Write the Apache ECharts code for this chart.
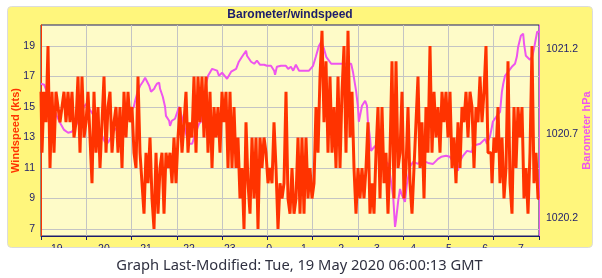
<!DOCTYPE html>
<html>
<head>
<meta charset="utf-8">
<script src="https://cdn.jsdelivr.net/npm/echarts@6/dist/echarts.min.js"></script>
<style>
html,body{margin:0;padding:0;background:#ffffff;}
#chart{width:602px;height:278px;}
</style>
</head>
<body>
<div id="chart"></div>
<script>
// x axis units: hour slots 0..11 (tick positions)
var hourLabels = ['19','20','21','22','23','0','1','2','3','4','5','6','7'];
var hourLabelPos = [0.35,1.39,2.32,3.27,4.17,5.04,5.81,6.63,7.42,8.22,9.01,9.81,10.60];
var windTicks = [7,9,11,13,15,17,19];
var baroTicks = [1020.2,1020.7,1021.2];

// windspeed (kts), evenly sampled over 0..11
var windSpeed = [
16,12,16,14,19,11,16,12,16,15,
14,15,16,14,16,14,16,13,14,17,
12,17,13,14,16,13,10,16,12,15,
11,14,17,12,15,16,12,14,15,12,
15,11,16,13,16,14,15,12,11,17,
12,10,8,12,10,13,9,7,12,8,
11,12,8,12,11,12,10,13,10,13,
15,12,14,16,12,14,13,17,12,17,
14,17,13,17,12,16,11,15,13,15,
12,16,14,16,11,16,11,15,11,13,
9,11,7,14,10,8,13,9,13,7,
13,11,13,12,10,11,10,14,11,7,
10,9,10,16,9,8,11,8,9,13,
8,13,8,13,9,11,9,10,15,12,
17,20,14,18,12,17,12,15,11,17,
11,16,19,12,20,13,16,11,8,11,
9,11,9,11,14,8,10,8,12,15,
9,15,10,12,8,12,18,9,18,11,
12,16,9,11,15,10,8,11,14,17,
11,14,9,15,12,19,12,16,13,15,
12,16,14,16,13,16,11,13,10,14,
11,15,14,16,13,16,15,11,15,14,
17,14,16,19,12,12,10,13,12,15,
10,13,9,11,18,10,8,15,11,15,
13,15,9,11,8,12,19,10,12,9
];
var windSpan = 11;

var baroTime = [0,0.07,0.13,0.24,0.35,0.42,0.51,0.60,0.68,0.77,
0.86,0.95,1.02,1.08,1.17,1.26,1.35,1.41,1.48,1.55,
1.61,1.70,1.79,1.88,1.97,2.05,2.08,2.14,2.19,2.25,
2.30,2.34,2.39,2.43,2.50,2.52,2.56,2.61,2.63,2.69,
2.74,2.76,2.83,2.85,2.89,2.96,3.05,3.09,3.16,3.23,
3.27,3.34,3.40,3.49,3.53,3.60,3.64,3.69,3.78,3.89,
3.93,4.00,4.11,4.20,4.31,4.37,4.44,4.53,4.55,4.64,
4.71,4.77,4.84,4.93,4.99,5.08,5.15,5.17,5.21,5.30,
5.41,5.46,5.52,5.57,5.63,5.70,5.92,6.01,6.07,6.14,
6.19,6.25,6.30,6.41,6.85,6.89,6.96,7.00,7.02,7.09,
7.16,7.20,7.22,7.27,7.29,7.38,7.40,7.49,7.60,7.67,
7.71,7.78,7.82,7.84,7.89,7.93,7.97,8.04,8.08,8.15,
8.22,8.33,8.39,8.55,8.66,8.77,8.84,8.95,9.03,9.15,
9.21,9.26,9.32,9.41,9.52,9.54,9.70,9.81,9.85,9.92,
9.96,9.98,10.07,10.14,10.18,10.21,10.25,10.32,10.40,10.47,
10.51,10.54,10.60,10.65,10.67,10.71,10.80,10.85,10.89,10.93,
10.96,11.0];
var baroValue = [1020.995,1020.989,1020.947,1020.876,1020.805,1020.764,1020.722,1020.705,1020.711,1020.746,
1020.805,1020.859,1020.882,1020.841,1020.805,1020.746,1020.687,1020.652,1020.646,1020.681,
1020.717,1020.740,1020.770,1020.794,1020.829,1020.859,1020.894,1020.953,1020.983,1021.007,
1021.030,1021.024,1020.983,1020.947,1020.965,1020.977,1020.995,1021.001,1020.965,1020.918,
1020.859,1020.805,1020.776,1020.746,1020.776,1020.788,1020.859,1020.865,1020.752,1020.669,
1020.640,1020.640,1020.693,1020.758,1020.770,1020.900,1020.989,1021.042,1021.083,1021.072,
1021.042,1021.060,1021.024,1021.066,1021.083,1021.125,1021.154,1021.190,1021.160,1021.125,
1021.113,1021.131,1021.107,1021.107,1021.101,1021.101,1021.072,1021.048,1021.095,1021.101,
1021.101,1021.083,1021.095,1021.072,1021.107,1021.072,1021.072,1021.101,1021.154,1021.220,
1021.243,1021.202,1021.154,1021.113,1021.113,1021.066,1020.953,1020.859,1020.770,1020.865,
1020.894,1020.865,1020.776,1020.669,1020.598,1020.628,1020.610,1020.575,1020.539,1020.521,
1020.456,1020.326,1020.149,1020.184,1020.302,1020.373,1020.338,1020.297,1020.397,1020.504,
1020.533,1020.521,1020.545,1020.527,1020.521,1020.551,1020.563,1020.569,1020.563,1020.515,
1020.480,1020.539,1020.569,1020.598,1020.592,1020.628,1020.640,1020.669,1020.640,1020.687,
1020.740,1020.770,1020.805,1020.829,1020.947,1020.995,1021.042,1021.066,1021.095,1021.113,
1021.154,1021.214,1021.279,1021.291,1021.231,1021.160,1021.137,1021.154,1021.202,1021.261,
1021.302,1021.302];

var windData = windSpeed.map(function(v, i){ return [i * windSpan / (windSpeed.length - 1), v]; });
var baroData = [];
for (var k = 0; k < Math.min(baroTime.length, baroValue.length); k++) baroData.push([baroTime[k], baroValue[k]]);

var NAVY = '#1c1c6c', RED = '#ff3300', VIOLET = '#ee55ee';
var chart = echarts.init(document.getElementById('chart'), null, {renderer: 'canvas'});
chart.setOption({
  animation: false,
  backgroundColor: '#ffffff',
  title: {
    text: 'Barometer/windspeed', left: 290, top: 9, textAlign: 'center', padding: 0,
    textStyle: {fontFamily: 'Liberation Sans', fontSize: 12, fontWeight: 'bold', color: NAVY}
  },
  graphic: [
    {type: 'rect', z: -100, silent: true, shape: {x: 7.5, y: 6.5, width: 585, height: 241, r: 4},
     style: {fill: '#fff67c', stroke: '#dcdcdc', lineWidth: 1}},
    {type: 'rect', z: 100, silent: true, shape: {x: 0, y: 248, width: 602, height: 30},
     style: {fill: '#ffffff'}},
    {type: 'text', z: 101, silent: true, x: 299.5, y: 266,
     style: {text: 'Graph Last-Modified: Tue, 19 May 2020 06:00:13 GMT', fill: '#2f3040',
             font: '14.7px "Noto Sans"', align: 'center', verticalAlign: 'middle'}}
  ],
  grid: {left: 41, right: 63, top: 25, bottom: 42, show: true, backgroundColor: '#fefbc8',
         borderColor: NAVY, borderWidth: 1, containLabel: false, outerBoundsMode: 'none'},
  xAxis: {
    type: 'value', min: 0, max: 11, interval: 1,
    axisLine: {show: true, lineStyle: {color: NAVY, width: 1}},
    axisTick: {show: true, length: 4, lineStyle: {color: NAVY}},
    splitLine: {show: true, lineStyle: {color: '#c4c4c4', width: 1}},
    axisLabel: {
      customValues: hourLabelPos, margin: 8, color: NAVY, fontSize: 10.5, fontFamily: 'Liberation Sans',
      formatter: function(v){
        var best = 0;
        for (var j = 0; j < hourLabelPos.length; j++) if (Math.abs(hourLabelPos[j]-v) < Math.abs(hourLabelPos[best]-v)) best = j;
        return hourLabels[best];
      }
    }
  },
  yAxis: [
    {
      type: 'value', min: 6.54, max: 20.38, position: 'left',
      name: 'Windspeed (kts)', nameLocation: 'middle', nameRotate: 90, nameGap: 20, nameMoveOverlap: false,
      nameTextStyle: {color: RED, fontWeight: 'bold', fontSize: 11, fontFamily: 'Liberation Sans'},
      axisLine: {show: true, lineStyle: {color: RED, width: 1}},
      axisTick: {show: false, customValues: windTicks},
      splitLine: {show: true, lineStyle: {color: '#c4c4c4', width: 1}},
      axisLabel: {customValues: windTicks, margin: 6, color: NAVY, fontSize: 10.5, fontFamily: 'Liberation Sans'}
    },
    {
      type: 'value', min: 1020.095, max: 1021.342, position: 'right',
      name: 'Barometer hPa', nameLocation: 'middle', nameRotate: 90, nameGap: 42, nameMoveOverlap: false,
      nameTextStyle: {color: VIOLET, fontWeight: 'bold', fontSize: 11, fontFamily: 'Liberation Sans'},
      axisLine: {show: true, lineStyle: {color: VIOLET, width: 1}},
      axisTick: {show: false, customValues: baroTicks},
      splitLine: {show: false},
      axisLabel: {customValues: baroTicks, margin: 7, color: NAVY, fontSize: 10.5, fontFamily: 'Liberation Sans',
        formatter: function(v){ return v.toFixed(1); }}
    }
  ],
  series: [
    {type: 'line', name: 'Barometer', yAxisIndex: 1, data: baroData, showSymbol: false, z: 2,
     lineStyle: {color: VIOLET, width: 2}, itemStyle: {color: VIOLET}},
    {type: 'line', name: 'Windspeed', yAxisIndex: 0, data: windData, showSymbol: false, z: 3, step: 'middle',
     lineStyle: {color: RED, width: 3}, itemStyle: {color: RED}}
  ]
});
</script>
</body>
</html>
